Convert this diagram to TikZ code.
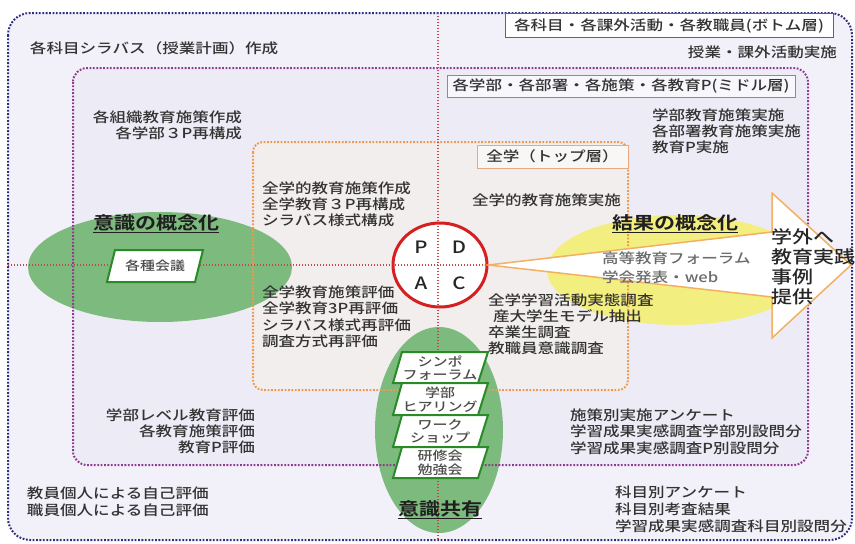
\documentclass[tikz,border=0pt]{standalone}
\usepackage{fontspec}
\newfontfamily\jp[FakeStretch=1.2,BoldFont={Noto Sans CJK JP Bold}]{Noto Sans CJK JP Medium}
\usetikzlibrary{shapes.geometric}
\definecolor{txtc}{HTML}{333333}
\definecolor{outerc}{HTML}{2E2E80}
\definecolor{midc}{HTML}{8E3B8E}
\definecolor{topc}{HTML}{EE9A50}
\definecolor{crossc}{HTML}{C04A4A}
\definecolor{bgouter}{HTML}{F2F1F9}
\definecolor{bgmid}{HTML}{EDECF6}
\definecolor{bgtop}{HTML}{F3EEEE}
\definecolor{greenfill}{HTML}{7DBA7D}
\definecolor{greenline}{HTML}{2A8A2A}
\definecolor{yellowfill}{HTML}{F3EE80}
\definecolor{arrowc}{HTML}{F2B060}
\definecolor{pdcac}{HTML}{D42020}
\definecolor{botbox}{HTML}{5A5AB4}
\definecolor{midbox}{HTML}{9A80A8}
\definecolor{topbox}{HTML}{E8A880}
\tikzset{
  base/.style={inner sep=0pt, outer sep=0pt, text=txtc, font=\jp\fontsize{13.8}{16}\selectfont},
  lblock/.style={base, align=left, anchor=north west},
  rblock/.style={base, align=right, anchor=north east},
  heading/.style={inner sep=0pt, text=black!88, anchor=base, font=\jp\bfseries\fontsize{17.5}{20}\selectfont},
  layerbox/.style={base, line width=1pt, anchor=center},
  smalltxt/.style={inner sep=0pt, text=black!70, align=center, font=\jp\fontsize{12.5}{13.5}\selectfont},
  dotline/.style={line width=2pt, dash pattern=on 1.8pt off 1.6pt},
  crossline/.style={crossc, line width=1.2pt, dash pattern=on 1.2pt off 1.8pt},
  greenell/.style={ellipse, fill=greenfill, inner sep=0pt},
  parabox/.style={draw=greenline, fill=white, line width=2pt, line join=miter},
  letter/.style={inner sep=0pt, text=black!85, font=\jp\fontsize{17}{20}\selectfont}
}
\begin{document}
\begin{tikzpicture}[x=1pt,y=-1pt]
\useasboundingbox (0,0) rectangle (855,544);
\fill[white] (0,0) rectangle (855,544);
% corners of the layers
\coordinate (o1) at (8,13);   \coordinate (o2) at (852,540);
\coordinate (m1) at (73,68);  \coordinate (m2) at (808,465);
\coordinate (t1) at (253,142); \coordinate (t2) at (628,390);
\coordinate (vt) at (438,13); \coordinate (vb) at (438,540);
\coordinate (hl) at (8,265);  \coordinate (hr) at (852,265);
% fills
\fill[bgouter, rounded corners=22pt] (o1) rectangle (o2);
\fill[bgmid, rounded corners=14pt] (m1) rectangle (m2);
\fill[bgtop, rounded corners=10pt] (t1) rectangle (t2);
% ellipses
\node[greenell, minimum width=264pt, minimum height=110pt] (ellL) at (160,267) {};
\node[greenell, minimum width=128pt, minimum height=206pt] (ellB) at (439,430) {};
\node[ellipse, fill=yellowfill, inner sep=0pt, minimum width=262pt, minimum height=110pt] (ellY) at (678,270) {};
\node[ellipse, fill=white, inner sep=0pt, minimum width=94pt, minimum height=84pt] (pdcafill) at (440,265) {};
% dotted borders
\draw[dotline, outerc, rounded corners=22pt] (o1) rectangle (o2);
\draw[dotline, midc, rounded corners=14pt] (m1) rectangle (m2);
\draw[dotline, topc, rounded corners=10pt] (t1) rectangle (t2);
\draw[crossline] (vt) -- (vb);
\draw[crossline] (hl) -- (hr);
% PDCA circle
\node[ellipse, draw=pdcac, line width=3pt, inner sep=0pt, minimum width=94pt, minimum height=84pt] (pdca) at (440,265) {};
\node[letter] (lp) at (421,247) {P};
\node[letter] (ld) at (459,247) {D};
\node[letter] (la) at (421,283) {A};
\node[letter] (lc) at (459,283) {C};
% arrow
\coordinate (a1) at (772,232); \coordinate (a2) at (772,193);
\coordinate (a3) at (851,265); \coordinate (a4) at (772,338);
\coordinate (a5) at (772,297);
\draw[arrowc, fill=white, line width=1.5pt, line join=miter] (pdca.east) -- (a1) -- (a2) -- (a3) -- (a4) -- (a5) -- cycle;
% layer label boxes
\node[layerbox, draw=botbox, fill=white, minimum width=328pt, minimum height=24pt] (lbot) at (669,25.5) {各科目・各課外活動・各教職員(ボトム層)};
\node[layerbox, draw=midbox, fill=white!60!bgmid, minimum width=348pt, minimum height=22pt] (lmid) at (621,86) {各学部・各部署・各施策・各教育P(ミドル層)};
\node[layerbox, draw=topbox, fill=white!50!bgtop, minimum width=151pt, minimum height=23pt] (ltop) at (552.5,156.5) {全学（トップ層）};
% parallelogram in left ellipse
\draw[parabox] (115,250) -- (203,250) -- (195,282) -- (107,282) -- cycle;
\node[smalltxt] (kaigi) at (155,266) {各種会議};
% stacked parallelograms in bottom ellipse
\draw[parabox] (402,352) -- (488,352) -- (478,383) -- (393,383) -- cycle;
\draw[parabox] (402,383) -- (488,383) -- (478,415) -- (393,415) -- cycle;
\draw[parabox] (402,415) -- (488,415) -- (478,447) -- (393,447) -- cycle;
\draw[parabox] (402,447) -- (488,447) -- (478,478) -- (393,478) -- cycle;
\node[smalltxt] (p1) at (440,368) {シンポ\\フォーラム};
\node[smalltxt] (p2) at (440,399.5) {学部\\ヒアリング};
\node[smalltxt] (p3) at (440,431.5) {ワーク\\ショップ};
\node[smalltxt] (p4) at (440,463) {研修会\\勉強会};
% headings
\node[heading] (h1) at (156,229.5) {\underline{意識の概念化}};
\node[heading] (h2) at (675,229.5) {\underline{結果の概念化}};
\node[heading] (h3) at (440,515) {\underline{意識共有}};
% arrow texts
\node[lblock, text=black!58, font=\jp\fontsize{13.8}{19}\selectfont] (fo) at (602,251.5) {高等教育フォーラム\\学会発表・web};
\node[lblock, text=black!85, font=\jp\fontsize{17.5}{20}\selectfont] (gai) at (771,229) {学外へ\\教育実践\\事例\\提供};
% text blocks
\node[lblock] (b1) at (30,41.5) {各科目シラバス（授業計画）作成};
\node[rblock] (b2) at (242,110.5) {各組織教育施策作成\\各学部３P再構成};
\node[lblock] (b3) at (262,181.5) {全学的教育施策作成\\全学教育３P再構成\\シラバス様式構成};
\node[lblock, font=\jp\fontsize{13.8}{16.5}\selectfont] (b4) at (262,285.5) {全学教育施策評価\\全学教育3P再評価\\シラバス様式再評価\\調査方式再評価};
\node[lblock] (b5) at (472,193.5) {全学的教育施策実施};
\node[lblock] (b6) at (488,293.5) {全学学習活動実態調査\\\hspace*{5pt}産大学生モデル抽出\\卒業生調査\\教職員意識調査};
\node[lblock] (b7) at (652,108.5) {学部教育施策実施\\各部署教育施策実施\\教育P実施};
\node[rblock] (b8) at (837,45.5) {授業・課外活動実施};
\node[rblock] (b9) at (255,408.5) {学部レベル教育評価\\各教育施策評価\\教育P評価};
\node[lblock, font=\jp\fontsize{13.8}{17}\selectfont] (b10) at (27,486.5) {教員個人による自己評価\\職員個人による自己評価};
\node[lblock, font=\jp\fontsize{13.8}{16.5}\selectfont] (b11) at (570,408.5) {施策別実施アンケート\\学習成果実感調査学部別設問分\\学習成果実感調査P別設問分};
\node[lblock, font=\jp\fontsize{13.8}{17}\selectfont] (b12) at (615,485.5) {科目別アンケート\\科目別考査結果\\学習成果実感調査科目別設問分};
\end{tikzpicture}
\end{document}
